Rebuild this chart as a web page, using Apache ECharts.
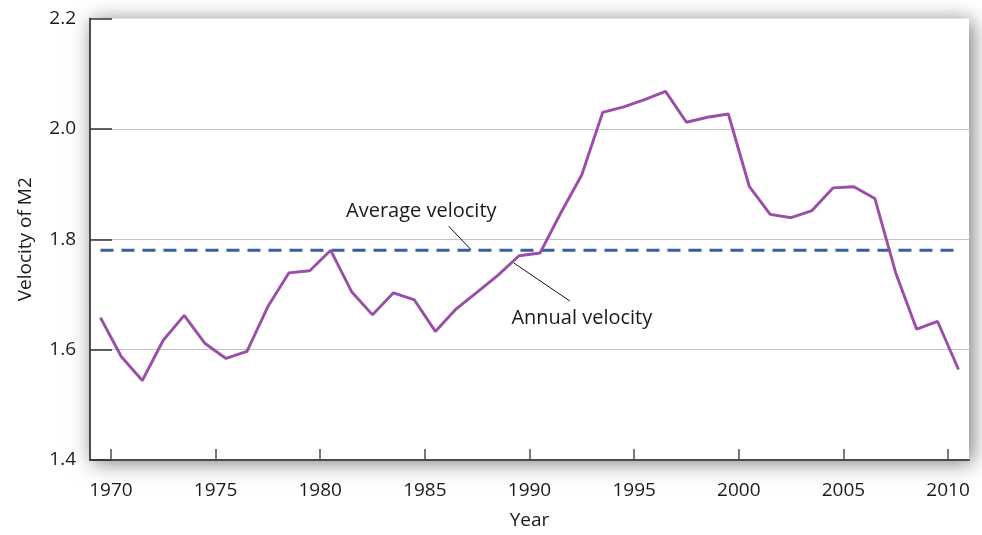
<!DOCTYPE html>
<html><head><meta charset="utf-8">
<script src="https://cdn.jsdelivr.net/npm/echarts@6/dist/echarts.min.js"></script>
<style>html,body{margin:0;padding:0;background:#fff}#c{width:982px;height:535px}</style>
</head><body><div id="c"></div>
<script>
const years = [1969,1970,1971,1972,1973,1974,1975,1976,1977,1978,1979,1980,1981,1982,1983,1984,1985,1986,1987,1988,1989,1990,1991,1992,1993,1994,1995,1996,1997,1998,1999,2000,2001,2002,2003,2004,2005,2006,2007,2008,2009,2010];
const velocity = [1.658,1.587,1.544,1.617,1.662,1.611,1.584,1.597,1.678,1.739,1.743,1.780,1.705,1.663,1.703,1.690,1.633,1.674,1.704,1.735,1.770,1.775,1.848,1.917,2.030,2.040,2.053,2.068,2.012,2.021,2.027,1.896,1.845,1.839,1.852,1.893,1.895,1.874,1.739,1.637,1.651,1.564];
const averageVelocity = 1.78;
const xTickLabels = [1970,1975,1980,1985,1990,1995,2000,2005,2010];
const yTickLabels = [1.4,1.6,1.8,2.0,2.2];
const labelAverage = 'Average velocity';
const labelAnnual = 'Annual velocity';

const FONT = '"Open Sans", "Noto Sans", sans-serif';
const TXT = '#1a1a1a';
// annual values are plotted at mid-year
const annualData = years.map((y, i) => [y + 0.5, velocity[i]]);
const avgData = [[years[0] + 0.5, averageVelocity], [years[years.length - 1] + 0.5, averageVelocity]];

const chart = echarts.init(document.getElementById('c'), null, {renderer: 'canvas'});
chart.setOption({
  animation: false,
  backgroundColor: '#fff',
  grid: {
    left: 90, top: 18.5, right: 13, bottom: 74,
    show: true, backgroundColor: '#fff', borderWidth: 0,
    shadowBlur: 20, shadowColor: 'rgba(0,0,0,0.55)', shadowOffsetX: 3, shadowOffsetY: 2
  },
  xAxis: {
    type: 'value', min: 1969, max: 2011,
    name: 'Year', nameLocation: 'middle', nameGap: 51,
    nameTextStyle: {fontFamily: FONT, fontSize: 19, color: TXT},
    axisLine: {show: true, lineStyle: {color: '#4d4d4d', width: 2}},
    axisTick: {show: true, inside: true, length: 11, customValues: xTickLabels, lineStyle: {color: '#4d4d4d', width: 1.5}},
    axisLabel: {customValues: xTickLabels, margin: 21, fontFamily: FONT, fontSize: 19, color: TXT, formatter: v => String(v)},
    splitLine: {show: false}
  },
  yAxis: {
    type: 'value', min: yTickLabels[0], max: yTickLabels[yTickLabels.length - 1], interval: 0.2,
    name: 'Velocity of M2', nameLocation: 'middle', nameGap: 55,
    nameTextStyle: {fontFamily: FONT, fontSize: 19, color: TXT},
    axisLine: {show: true, lineStyle: {color: '#4d4d4d', width: 2}},
    axisTick: {show: true, inside: true, length: 22, lineStyle: {color: '#333', width: 1.5}},
    axisLabel: {margin: 14, fontFamily: FONT, fontSize: 19, color: TXT, formatter: v => v.toFixed(1)},
    splitLine: {show: true, showMinLine: false, showMaxLine: false, lineStyle: {color: '#c4c4c4', width: 1.2}}
  },
  series: [
    {
      name: 'Average velocity', type: 'line', data: avgData, symbol: 'none', silent: true,
      lineStyle: {color: '#3b5e9d', width: 3, type: [13, 8]}, z: 3
    },
    {
      name: 'Annual velocity', type: 'line', data: annualData, symbol: 'none', silent: true,
      lineStyle: {color: '#9b4ea8', width: 2.9}, z: 4,
      markLine: {
        silent: true, symbol: ['none', 'none'], animation: false,
        lineStyle: {color: '#111', width: 1, type: 'solid'}, label: {show: false},
        data: [
          [{coord: [1986.14, 1.8235]}, {coord: [1987.21, 1.781]}],
          [{coord: [1989.25, 1.757]}, {coord: [1991.93, 1.688]}]
        ]
      },
      markPoint: {
        silent: true, symbol: 'circle', symbolSize: 0,
        label: {show: true, position: 'inside', fontFamily: FONT, fontSize: 20, color: TXT},
        data: [
          {coord: [1984.83, 1.851], label: {formatter: labelAverage}},
          {coord: [1992.5, 1.656], label: {formatter: labelAnnual}}
        ]
      }
    }
  ]
});
</script></body></html>
